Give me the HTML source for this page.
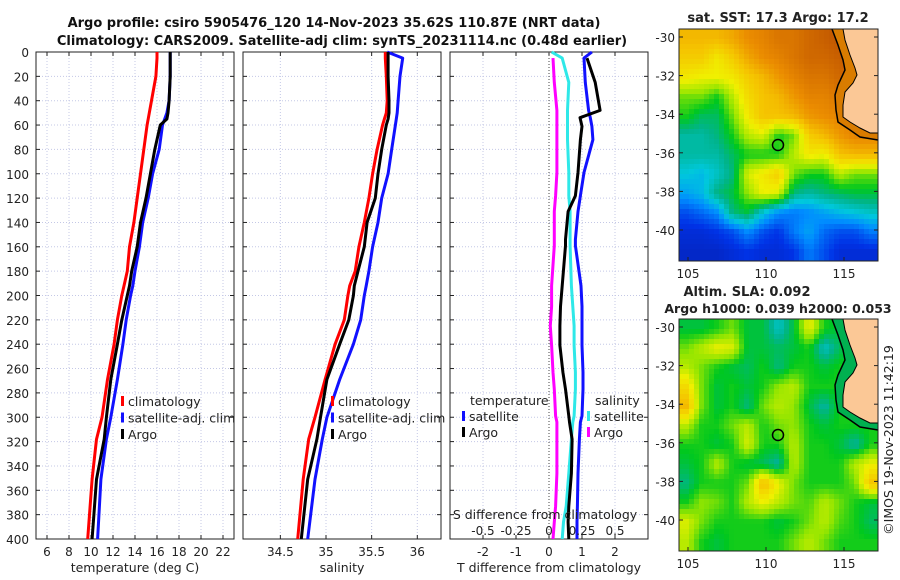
<!DOCTYPE html>
<html><head><meta charset="utf-8"><style>
body{margin:0;background:#fff;}
svg{display:block;font-family:"DejaVu Sans","Liberation Sans",sans-serif;}
</style></head><body>
<svg id="s" width="900" height="580" viewBox="0 0 900 580">
<g id="maps"></g>
<g id="plots"></g>
</svg>
<script>
// ---- data ----
const depthsUpper = [0,5,20,40,50,55,60,80,100,120,140,160,180,192,200,220,240,269,300,318,351,400];
const tempClim  = [16.0,16.0,15.9,15.5,15.3,15.2,15.1,14.8,14.5,14.2,13.9,13.5,13.3,13.0,12.8,12.4,12.1,11.5,11.0,10.5,10.1,9.7];
const tempSat   = [17.2,17.2,17.2,17.1,16.9,16.7,16.5,16.2,15.6,15.2,14.7,14.4,14.0,13.8,13.6,13.2,12.9,12.4,11.8,11.4,10.9,10.6];
const tempArgo  = [17.2,17.2,17.2,17.1,17.0,16.9,16.3,15.8,15.4,15.0,14.5,14.2,13.7,13.5,13.3,12.8,12.4,11.8,11.4,11.2,10.5,10.1];
const salClim = [35.65,35.65,35.66,35.67,35.66,35.64,35.62,35.56,35.51,35.47,35.42,35.36,35.32,35.26,35.24,35.2,35.1,34.99,34.88,34.81,34.75,34.69];
const salSat  = [35.67,35.84,35.81,35.79,35.78,35.77,35.76,35.72,35.68,35.61,35.57,35.51,35.47,35.44,35.42,35.38,35.3,35.15,35.01,34.96,34.88,34.80];
const salArgo = [35.68,35.68,35.68,35.69,35.69,35.68,35.66,35.61,35.57,35.54,35.45,35.42,35.35,35.31,35.3,35.25,35.15,35.01,34.94,34.9,34.8,34.73];
const diffDepths = [0,5,25,48,54,61,72,99,118,131,154,159,192,209,225,241,263,277,299,304,318,346,373,386,400];
const dTsat  = [1.3,1.06,1.1,1.2,1.25,1.3,1.33,1.06,0.95,0.88,0.8,0.8,0.97,1.0,1.0,1.0,1.03,1.03,1.0,0.95,0.92,0.88,0.86,0.85,0.85];
const dTargo = [null,1.15,1.4,1.55,0.94,1.0,0.95,0.88,0.8,0.58,0.5,0.5,0.4,0.35,0.33,0.33,0.42,0.5,0.6,0.62,0.7,0.68,0.6,0.58,0.6];
const dSsat  = [0.02,0.1,0.15,0.14,0.14,0.14,0.14,0.15,0.15,0.16,0.16,0.16,0.17,0.18,0.19,0.19,0.2,0.2,0.19,0.18,0.17,0.15,0.13,0.11,0.1];
const dSargo = [null,0.03,0.04,0.06,0.06,0.06,0.06,0.06,0.05,0.04,0.04,0.04,0.02,0.02,0.01,0.02,0.03,0.04,0.05,0.06,0.06,0.06,0.05,0.04,0.03];
const tTicks = [6,8,10,12,14,16,18,20,22];
const sTicks = [34.5,35,35.5,36];
const dTTicks = [-2,-1,0,1,2];
const dSTicks = [-0.5,-0.25,0,0.25,0.5];
const dSTickLabels = ['-0.5','-0.25','0','0.25','0.5'];
const depthTicks = [0,20,40,60,80,100,120,140,160,180,200,220,240,260,280,300,320,340,360,380,400];
const sstGrid = [
[0.72,0.72,0.72,0.75,0.8,0.82,0.85,0.85,0.88,0.9,0.92,0.92,0.92],
[0.68,0.68,0.62,0.68,0.75,0.8,0.82,0.85,0.88,0.88,0.9,0.9,0.9],
[0.62,0.6,0.6,0.62,0.68,0.72,0.78,0.82,0.85,0.85,0.88,0.88,0.88],
[0.5,0.5,0.45,0.55,0.65,0.7,0.72,0.78,0.82,0.82,0.85,0.85,0.85],
[0.45,0.4,0.4,0.5,0.62,0.7,0.7,0.72,0.78,0.8,0.82,0.82,0.82],
[0.35,0.35,0.38,0.45,0.55,0.58,0.45,0.5,0.68,0.72,0.78,0.82,0.82],
[0.35,0.35,0.35,0.4,0.45,0.45,0.45,0.55,0.62,0.6,0.7,0.72,0.72],
[0.3,0.28,0.32,0.38,0.58,0.62,0.68,0.5,0.45,0.45,0.55,0.5,0.5],
[0.25,0.28,0.38,0.42,0.52,0.6,0.58,0.38,0.35,0.38,0.4,0.42,0.42],
[0.15,0.18,0.22,0.38,0.42,0.3,0.22,0.2,0.22,0.25,0.28,0.3,0.32],
[0.1,0.1,0.12,0.15,0.22,0.15,0.12,0.2,0.25,0.18,0.15,0.15,0.2],
[0.08,0.08,0.08,0.1,0.12,0.1,0.1,0.12,0.2,0.15,0.1,0.1,0.1]];
const slaGrid = [
[0.42,0.42,0.45,0.5,0.42,0.42,0.32,0.42,0.6,0.45,0.42,0.42,0.42],
[0.5,0.55,0.6,0.58,0.42,0.42,0.4,0.42,0.45,0.32,0.4,0.45,0.45],
[0.55,0.5,0.45,0.42,0.4,0.45,0.38,0.45,0.45,0.42,0.45,0.45,0.45],
[0.65,0.5,0.42,0.45,0.42,0.45,0.52,0.55,0.45,0.45,0.45,0.45,0.45],
[0.72,0.5,0.42,0.45,0.38,0.5,0.55,0.52,0.42,0.35,0.45,0.45,0.45],
[0.55,0.45,0.45,0.5,0.55,0.45,0.5,0.52,0.45,0.42,0.45,0.45,0.45],
[0.45,0.45,0.42,0.45,0.58,0.45,0.45,0.55,0.45,0.45,0.42,0.35,0.45],
[0.42,0.45,0.55,0.45,0.42,0.4,0.35,0.55,0.45,0.45,0.45,0.55,0.6],
[0.38,0.45,0.45,0.45,0.5,0.72,0.6,0.5,0.45,0.45,0.45,0.5,0.7],
[0.45,0.52,0.5,0.45,0.55,0.6,0.55,0.5,0.48,0.55,0.5,0.45,0.42],
[0.58,0.5,0.45,0.45,0.45,0.45,0.42,0.45,0.5,0.55,0.48,0.45,0.4],
[0.55,0.45,0.42,0.45,0.45,0.45,0.45,0.5,0.55,0.5,0.45,0.45,0.45]];

const NS='http://www.w3.org/2000/svg';
function el(tag,attrs,parent){const e=document.createElementNS(NS,tag);for(const k in attrs)e.setAttribute(k,attrs[k]);parent.appendChild(e);return e;}
function txt(x,y,s,parent,extra){const t=el('text',Object.assign({x:x,y:y,'font-size':12.5,fill:'#222'},extra||{}),parent);t.textContent=s;return t;}
const P=document.getElementById('plots'), M=document.getElementById('maps');
const TOP=52,BOT=539;
const yD=d=>TOP+(d/400)*(BOT-TOP);
const panels=[
 {x0:36,x1:234,xs:v=>36+(v-5)*11,ticks:tTicks,labels:tTicks.map(String),name:'temperature-panel'},
 {x0:243,x1:441,xs:v=>326+(v-35)*91.3,ticks:sTicks,labels:sTicks.map(String),name:'salinity-panel'},
 {x0:450,x1:648,xs:v=>549+v*33,ticks:dTTicks,labels:dTTicks.map(String),name:'difference-panel'}];
const dsX=v=>549+v*132;

let t=txt(334,27,'Argo profile: csiro 5905476_120 14-Nov-2023 35.62S 110.87E (NRT data)',P,{'font-weight':'bold','text-anchor':'middle','font-size':13,fill:'#111'});


t=txt(342,45,'Climatology: CARS2009. Satellite-adj clim: synTS_20231114.nc (0.48d earlier)',P,{'font-weight':'bold','text-anchor':'middle','font-size':13,fill:'#111'});



panels.forEach((p,pi)=>{
  const g=el('g',{},P);
  
  
  el('rect',{x:p.x0,y:TOP,width:p.x1-p.x0,height:BOT-TOP,fill:'#fff'},g);
  depthTicks.forEach(d=>{
    el('line',{x1:p.x0,x2:p.x1,y1:yD(d),y2:yD(d),stroke:'#c4c8e6','stroke-width':1,'stroke-dasharray':'1,2'},g);
    el('line',{x1:p.x0,x2:p.x0+4,y1:yD(d),y2:yD(d),stroke:'#222'},g);
    el('line',{x1:p.x1-4,x2:p.x1,y1:yD(d),y2:yD(d),stroke:'#222'},g);
  });
  p.ticks.forEach((v,i)=>{
    const x=p.xs(v);
    el('line',{x1:x,x2:x,y1:TOP,y2:BOT,stroke:'#c4c8e6','stroke-width':1,'stroke-dasharray':'1,2'},g);
    el('line',{x1:x,x2:x,y1:BOT,y2:BOT-4,stroke:'#222'},g);
    el('line',{x1:x,x2:x,y1:TOP,y2:TOP+4,stroke:'#222'},g);
    const tl=txt(x,556,p.labels[i],g,{'text-anchor':'middle','font-size':12});
    
    
  });
  el('rect',{x:p.x0,y:TOP,width:p.x1-p.x0,height:BOT-TOP,fill:'none',stroke:'#222','stroke-width':1},g);
});
depthTicks.forEach(d=>{
  const tl=txt(29,yD(d)+5,String(d),P,{'text-anchor':'end','font-size':12});
  
  
});
[['temperature (deg C)',135],['salinity',342],['T difference from climatology',549]].forEach(a=>{
  const tl=txt(a[1],572,a[0],P,{'text-anchor':'middle','font-size':12.5});
  
  
});
el('line',{x1:549,x2:549,y1:TOP,y2:BOT,stroke:'#444','stroke-dasharray':'1,2'},P);

function line(depths,vals,xs,color,name){
  let d='';let started=false;
  vals.forEach((v,i)=>{if(v===null)return;d+=(started?'L':'M')+xs(v).toFixed(1)+','+yD(depths[i]).toFixed(1);started=true;});
  const pth=el('path',{d:d,fill:'none',stroke:color,'stroke-width':3,'stroke-linejoin':'round'},P);
  
  
}
line(depthsUpper,tempClim,panels[0].xs,'#f00','temp-climatology-line');
line(depthsUpper,tempSat,panels[0].xs,'#11f','temp-satellite-line');
line(depthsUpper,tempArgo,panels[0].xs,'#000','temp-argo-line');
line(depthsUpper,salClim,panels[1].xs,'#f00','sal-climatology-line');
line(depthsUpper,salSat,panels[1].xs,'#11f','sal-satellite-line');
line(depthsUpper,salArgo,panels[1].xs,'#000','sal-argo-line');
line(diffDepths,dSargo,dsX,'#f0f','sdiff-argo-line');
line(diffDepths,dSsat,dsX,'#2ee8e8','sdiff-satellite-line');
line(diffDepths,dTsat,panels[2].xs,'#11f','tdiff-satellite-line');
line(diffDepths,dTargo,panels[2].xs,'#000','tdiff-argo-line');

function legendEntry(x,y,color,label,name){
  const g=el('g',{},P);
  
  
  el('rect',{x:x,y:y-10,width:3,height:10,fill:color},g);
  txt(x+7,y,label,g,{'font-size':12.5});
}
[[121,'#f00','climatology'],[121,'#11f','satellite-adj. clim'],[121,'#000','Argo']].forEach((a,i)=>legendEntry(a[0],406+i*16.5,a[1],a[2],'legend-entry'));
[[331,'#f00','climatology'],[331,'#11f','satellite-adj. clim'],[331,'#000','Argo']].forEach((a,i)=>legendEntry(a[0],406+i*16.5,a[1],a[2],'legend-entry'));
t=txt(470,405,'temperature',P,{'font-size':12.5});
t=txt(595,405,'salinity',P,{'font-size':12.5});
legendEntry(462,421,'#11f','satellite','legend-entry');
legendEntry(462,437,'#000','Argo','legend-entry');
legendEntry(587,421,'#2ee8e8','satellite','legend-entry');
legendEntry(587,437,'#f0f','Argo','legend-entry');
t=txt(545,519,'S difference from climatology',P,{'text-anchor':'middle','font-size':12.5});
dSTicks.forEach((v,i)=>{const tl=txt(dsX(v),535,dSTickLabels[i],P,{'text-anchor':'middle','font-size':12});});

// ---- maps ----
const stops=[[0,[10,20,140]],[0.12,[0,50,230]],[0.22,[0,140,255]],[0.3,[0,200,220]],[0.37,[0,180,140]],[0.44,[0,200,30]],[0.52,[150,230,0]],[0.6,[240,240,0]],[0.7,[245,195,0]],[0.8,[235,140,0]],[0.9,[200,95,0]],[1,[160,50,0]]];
function cmap(v){for(let i=1;i<stops.length;i++){if(v<=stops[i][0]){const a=stops[i-1],b=stops[i],f=(v-a[0])/(b[0]-a[0]);return 'rgb('+a[1].map((c,k)=>Math.round(c+(b[1][k]-c)*f)).join(',')+')';}}return 'rgb(160,50,0)';}
function drawMap(ox,oy,grid,shelf,name){
  const g=el('g',{},M);
  
  
  const W=199,H=232,cs=5;
  for(let py=0;py<H;py+=cs){for(let px=0;px<W;px+=cs){
    const gx=Math.min(12,Math.max(0,(px+cs/2)/W*13-0.5)), gy=Math.min(11,Math.max(0,(py+cs/2)/H*12-0.5));
    const x0=Math.floor(gx),y0=Math.floor(gy),x1=Math.min(12,x0+1),y1=Math.min(11,y0+1),fx=gx-x0,fy=gy-y0;
    const v=(grid[y0][x0]*(1-fx)+grid[y0][x1]*fx)*(1-fy)+(grid[y1][x0]*(1-fx)+grid[y1][x1]*fx)*fy;
    el('rect',{x:ox+px,y:oy+py,width:Math.min(cs,W-px),height:Math.min(cs,H-py),fill:cmap(v)},g);
  }}
  const dy=oy-29;
  const P2=pts=>pts.map(p=>p[0]+','+(p[1]+dy)).join(' ');
  const contour=[[832,29],[838,45],[843,60],[845,70],[838,85],[835,95],[836,110],[838,122],[850,130],[860,137],[878,140]];
  el('polygon',{points:P2(contour.concat([[878,29]])),fill:shelf},g);
  el('polyline',{points:P2(contour),fill:'none',stroke:'#000','stroke-width':1.5},g);
  const coast=[[843,29],[845,40],[850,55],[855,68],[857,75],[853,83],[845,92],[843,105],[843,117],[850,122],[860,128],[870,133],[878,133],[878,29]];
  el('polygon',{points:P2(coast),fill:'#fbc896',stroke:'#000','stroke-width':1},g);
  el('rect',{x:ox,y:oy,width:W,height:H,fill:'none',stroke:'#222'},g);
  const c=el('circle',{cx:778,cy:145+dy,r:5.5,fill:'none',stroke:'#000','stroke-width':1.5},g);
  
  
  const latY=[-30,-32,-34,-36,-38,-40];
  latY.forEach(l=>{const y=oy+8+(-30-l)*19.3;
    el('line',{x1:ox,x2:ox+4,y1:y,y2:y,stroke:'#222'},g);el('line',{x1:ox+W-4,x2:ox+W,y1:y,y2:y,stroke:'#222'},g);
    txt(ox-4,y+5,String(l),g,{'text-anchor':'end','font-size':12});});
  [105,110,115].forEach(l=>{const x=688+(l-105)*15.6;
    el('line',{x1:x,x2:x,y1:oy+H,y2:oy+H-4,stroke:'#222'},g);
    txt(x,oy+H+17,String(l),g,{'text-anchor':'middle','font-size':12});});
}
drawMap(679,29,sstGrid,'#d97c00','sst-map');
drawMap(679,319,slaGrid,'#00b050','sla-map');
t=txt(778,22,'sat. SST: 17.3 Argo: 17.2',M,{'text-anchor':'middle','font-weight':'bold','font-size':13});
t=txt(747,296,'Altim. SLA: 0.092',M,{'text-anchor':'middle','font-weight':'bold','font-size':13});
t=txt(778,313,'Argo h1000: 0.039 h2000: 0.053',M,{'text-anchor':'middle','font-weight':'bold','font-size':12.5});
t=txt(0,0,'©IMOS 19-Nov-2023 11:42:19',M,{'text-anchor':'middle','font-size':12.5,transform:'translate(893,440) rotate(-90)'});
</script>
</body></html>
